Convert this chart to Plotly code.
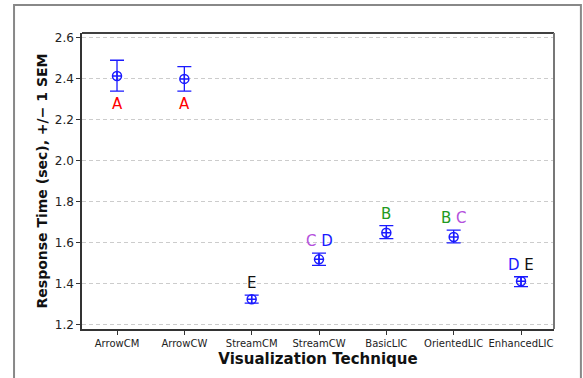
import plotly.graph_objects as go

categories = ["ArrowCM", "ArrowCW", "StreamCM", "StreamCW", "BasicLIC", "OrientedLIC", "EnhancedLIC"]
means = [2.414, 2.400, 1.324, 1.519, 1.649, 1.628, 1.412]
upper = [2.491, 2.460, 1.344, 1.549, 1.684, 1.662, 1.434]
lower = [2.340, 2.340, 1.305, 1.490, 1.620, 1.599, 1.386]
groups = [["A"], ["A"], ["E"], ["C", "D"], ["B"], ["B", "C"], ["D", "E"]]
label_below = [True, True, False, False, False, False, False]
y_ticks = [1.2, 1.4, 1.6, 1.8, 2.0, 2.2, 2.4, 2.6]

letter_colors = {"A": "#ff0000", "B": "#229922", "C": "#b44fdc", "D": "#1a1aff", "E": "#111111"}
FONT = "DejaVu Sans, Verdana, sans-serif"

fig = go.Figure()
fig.add_trace(go.Scatter(
    x=categories, y=means, mode="markers",
    marker=dict(symbol="circle-cross-open", size=9, color="#1a1aff", line=dict(width=1.5)),
    error_y=dict(type="data", symmetric=False,
                 array=[u - m for u, m in zip(upper, means)],
                 arrayminus=[m - l for m, l in zip(means, lower)],
                 color="#1a1aff", thickness=1.3, width=7),
    showlegend=False,
))

for cat, grp, up, lo, below in zip(categories, groups, upper, lower, label_below):
    txt = "&nbsp;".join(f"<span style='color:{letter_colors[g]}'>{g}</span>" for g in grp)
    fig.add_annotation(
        x=cat, y=lo if below else up, text=txt, showarrow=False,
        yanchor="top" if below else "bottom", yshift=-2 if below else 1,
        font=dict(family=FONT, size=15), xref="x", yref="y",
    )

# outer frame
fig.add_shape(type="rect", xref="paper", yref="paper",
              x0=-0.144, x1=1.057, y0=-0.2, y1=1.0946,
              line=dict(color="#888888", width=2), layer="below")
# plot area border
fig.add_shape(type="line", xref="paper", yref="paper", x0=0, x1=1, y0=1, y1=1,
              line=dict(color="#000000", width=1.5))
fig.add_shape(type="line", xref="paper", yref="paper", x0=1, x1=1, y0=0, y1=1,
              line=dict(color="#777777", width=2))

fig.update_layout(
    width=583, height=378,
    margin=dict(l=82, r=29, t=33, b=49),
    paper_bgcolor="white", plot_bgcolor="white",
    font=dict(family=FONT, color="#222222"),
    xaxis=dict(
        range=[-0.52, 6.49], showgrid=False, zeroline=False,
        showline=True, linecolor="#333333", linewidth=1.5,
        ticks="outside", ticklen=4, tickcolor="#333333",
        tickfont=dict(size=10, family=FONT),
        title=dict(text="<b>Visualization Technique</b>", font=dict(size=15, family=FONT, color="#111111"), standoff=6),
    ),
    yaxis=dict(
        range=[1.179, 2.624], tickvals=y_ticks, ticktext=[f"{v:.1f}" for v in y_ticks],
        showgrid=True, gridcolor="#cccccc", griddash="4px,3px", gridwidth=1,
        zeroline=False, showline=True, linecolor="#333333", linewidth=1.5,
        ticks="outside", ticklen=4, tickcolor="#333333",
        tickfont=dict(size=12, family=FONT),
        title=dict(text="<b>Response Time (sec), +/\u2212 1 SEM</b>", font=dict(size=14, family=FONT, color="#111111"), standoff=4),
    ),
)

fig.write_html("out.html")
